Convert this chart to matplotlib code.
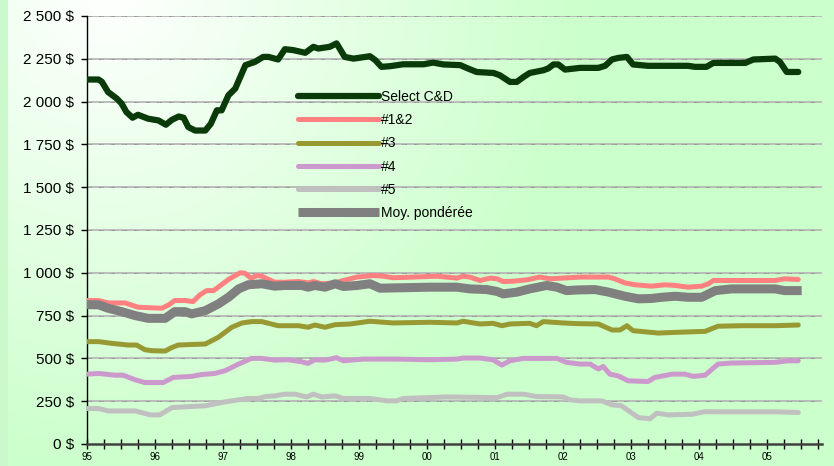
import numpy as np
import matplotlib
matplotlib.use("Agg")
import matplotlib.pyplot as plt
from matplotlib.ticker import FuncFormatter, MultipleLocator, FixedLocator

plt.rcParams['font.family'] = ['Liberation Sans', 'DejaVu Sans']

# ---------------- data (x in years since 1995) ----------------
cd_x = [0.00,0.17,0.22,0.31,0.44,0.51,0.58,0.67,0.75,0.90,1.05,1.16,1.25,1.35,1.42,1.49,1.59,1.74,1.82,1.91,
        1.98,2.08,2.18,2.33,2.47,2.59,2.67,2.81,2.91,3.03,3.21,3.33,3.40,3.57,3.67,3.79,3.92,4.16,4.24,4.33,
        4.46,4.65,4.95,5.09,5.24,5.49,5.58,5.73,5.98,6.07,6.22,6.32,6.42,6.51,6.71,6.78,6.86,6.93,7.03,7.25,
        7.52,7.62,7.72,7.81,7.94,8.03,8.25,8.84,8.94,9.11,9.21,9.68,9.80,10.12,10.19,10.29,10.46]
cd_y = [2129,2129,2115,2056,2017,1988,1939,1906,1923,1900,1890,1865,1894,1913,1906,1851,1831,1831,1870,1949,
        1949,2037,2076,2213,2232,2261,2261,2246,2306,2301,2285,2320,2310,2320,2340,2261,2251,2265,2242,2203,
        2207,2218,2218,2228,2217,2213,2197,2173,2167,2154,2115,2115,2144,2167,2183,2193,2217,2217,2187,2197,
        2197,2209,2246,2255,2261,2217,2209,2209,2203,2203,2226,2226,2246,2251,2232,2173,2173]

s12_x = [0.00,0.17,0.31,0.56,0.75,1.10,1.20,1.29,1.44,1.56,1.66,1.76,1.86,1.93,2.08,2.25,2.32,2.41,2.50,2.57,
         2.76,2.91,3.11,3.25,3.33,3.45,3.65,3.77,3.97,4.21,4.36,4.50,4.80,5.14,5.29,5.44,5.53,5.63,5.78,5.93,
         6.03,6.12,6.27,6.47,6.66,6.81,7.25,7.67,7.76,7.91,8.06,8.30,8.50,8.65,8.84,9.04,9.14,9.21,9.63,10.12,
         10.26,10.46]
s12_y = [838,838,824,824,799,793,812,838,838,832,871,896,896,916,961,1000,998,969,984,980,
         945,945,949,941,949,936,941,955,975,984,980,971,975,980,975,969,980,975,955,969,
         965,949,951,959,975,965,975,975,965,941,930,922,930,926,916,922,936,955,955,955,
         965,961]

s3_x = [0.00,0.17,0.36,0.61,0.73,0.85,0.95,1.15,1.25,1.34,1.59,1.74,1.93,2.13,2.28,2.42,2.57,2.81,3.11,3.25,
        3.35,3.50,3.65,3.87,4.16,4.50,5.04,5.44,5.53,5.78,5.97,6.10,6.22,6.51,6.61,6.71,7.00,7.21,7.52,7.72,
        7.84,7.94,8.03,8.40,8.65,9.09,9.28,9.63,10.12,10.46]
s3_y = [598,598,588,578,578,551,545,543,564,578,582,584,623,682,707,715,715,691,691,682,
        695,682,697,701,717,707,711,707,717,701,705,691,701,705,691,715,707,703,701,666,
        666,691,662,648,652,658,688,691,691,695]

s4_x = [0.00,0.17,0.41,0.53,0.71,0.85,1.12,1.27,1.54,1.69,1.88,2.03,2.23,2.42,2.57,2.76,2.96,3.16,3.25,3.35,
        3.50,3.67,3.77,4.06,4.55,5.04,5.44,5.53,5.78,5.97,6.10,6.22,6.41,6.91,7.05,7.25,7.40,7.52,7.59,7.69,
        7.81,7.96,8.25,8.35,8.60,8.79,8.92,9.09,9.28,9.48,10.12,10.31,10.46]
s4_y = [408,412,402,402,375,359,359,389,395,406,412,428,467,500,500,490,492,480,471,492,
        490,504,486,496,496,492,496,502,502,492,461,486,500,500,477,467,467,438,453,408,
        398,369,365,389,408,408,395,402,467,473,477,486,486]

s5_x = [0.00,0.17,0.31,0.71,0.93,1.07,1.25,1.44,1.74,2.03,2.23,2.37,2.52,2.62,2.76,2.91,3.06,3.23,3.33,3.45,
        3.65,3.77,4.16,4.41,4.55,4.65,5.29,6.03,6.18,6.42,6.61,7.00,7.10,7.25,7.57,7.72,7.86,8.11,8.28,8.38,
        8.55,8.90,9.09,9.34,10.12,10.46]
s5_y = [207,207,193,193,170,170,213,217,223,246,258,266,266,277,281,291,291,275,291,275,
        281,266,266,252,252,266,275,271,291,291,277,275,258,252,252,229,223,154,148,180,
        170,174,189,188,188,184]

moy_x = [0.00,0.17,0.31,0.51,0.71,0.90,1.15,1.29,1.44,1.54,1.74,1.93,2.08,2.23,2.37,2.57,2.76,2.91,3.16,3.25,
         3.35,3.50,3.65,3.77,3.97,4.16,4.31,4.55,5.04,5.44,5.63,5.88,6.03,6.12,6.32,6.51,6.76,6.91,7.05,7.22,
         7.47,7.67,7.91,8.11,8.30,8.45,8.65,8.84,9.04,9.24,9.48,9.78,10.12,10.26,10.51]
moy_y = [814,813,793,773,750,734,734,773,773,760,779,818,857,906,930,936,922,926,926,916,
         926,916,936,920,926,936,910,912,916,916,906,902,891,877,887,906,926,916,896,900,
         902,887,863,848,850,857,863,857,857,896,906,906,906,896,896]

labels = ["Select C&D", "#1&2", "#3", "#4", "#5", "Moy. pondérée"]
colors = ["#0a3a0a", "#ff8080", "#999933", "#cc99cc", "#c0c0c0", "#808080"]
widths = [4.5, 3.6, 3.6, 3.6, 3.6, 6.5]
year_labels = ["95", "96", "97", "98", "99", "00", "01", "02", "03", "04", "05"]
yticks = [0, 250, 500, 750, 1000, 1250, 1500, 1750, 2000, 2250, 2500]

# ---------------- figure ----------------
W, H = 834, 466
fig = plt.figure(figsize=(W / 100, H / 100), dpi=100)

# background gradient
bg = fig.add_axes([0, 0, 1, 1], zorder=-10)
bg.axis('off')
yy, xx = np.mgrid[0:H, 0:W]
r = np.clip(np.hypot(xx - 110, yy + 10) / 470.0, 0, 1)
white = np.array([1.0, 1.0, 1.0])
green = np.array([0.80, 1.0, 0.80])
img = white[None, None, :] * (1 - r[..., None]) + green[None, None, :] * r[..., None]
img[:, :8, :] = np.array([0.80, 0.98, 0.80])
bg.imshow(img, aspect='auto', extent=[0, 1, 0, 1], origin='upper')
bg.set_xlim(0, 1)
bg.set_ylim(0, 1)

ax = fig.add_axes([87 / W, (H - 444) / H, 735 / W, (444 - 16) / H])
ax.set_facecolor('none')

series = [(cd_x, cd_y), (s12_x, s12_y), (s3_x, s3_y), (s4_x, s4_y), (s5_x, s5_y), (moy_x, moy_y)]
handles = []
for (sx, sy), lab, c, lw in zip(series, labels, colors, widths):
    capstyle = 'butt' if lab.startswith('Moy') else 'round'
    h, = ax.plot(1995 + np.array(sx), sy, color=c, lw=lw, label=lab,
                 solid_capstyle=capstyle, solid_joinstyle='round', zorder=3)
    handles.append(h)

ax.set_xlim(1995, 1995 + 735 / 68)
ax.set_ylim(0, 2500)

# gridlines
for v in yticks[1:]:
    ax.axhline(v, color='#b8b8b8', lw=1.3, zorder=1)
    ax.axhline(v, color='#555555', lw=0.6, zorder=1.1,
               linestyle=(0, (0.5, 1.0, 0.5, 1.0, 0.5, 1.0, 0.5, 9.0)))

ax.yaxis.set_major_locator(FixedLocator(yticks))
ax.yaxis.set_major_formatter(FuncFormatter(lambda v, p: f"{int(v):,}".replace(",", " ") + " $"))
ax.xaxis.set_major_locator(FixedLocator([1995 + i for i in range(len(year_labels))]))
ax.xaxis.set_major_formatter(FuncFormatter(
    lambda v, p: year_labels[int(round(v - 1995))] if 0 <= int(round(v - 1995)) < len(year_labels) else ""))
ax.xaxis.set_minor_locator(MultipleLocator(0.25))

for s in ['top', 'right']:
    ax.spines[s].set_visible(False)
ax.spines['left'].set_color('black')
ax.spines['left'].set_linewidth(1.0)
ax.spines['bottom'].set_color('#404040')
ax.spines['bottom'].set_linewidth(1.8)

ax.tick_params(axis='y', direction='out', length=4, width=1, labelsize=11, colors='black', pad=5.5)
ax.tick_params(axis='x', which='both', direction='inout', length=7, width=1, colors='black')
ax.tick_params(axis='x', which='major', labelsize=7, pad=2)

leg = ax.legend(handles=handles, loc='upper left', bbox_to_anchor=(0.287, 0.827),
                frameon=False, borderaxespad=0, borderpad=0, fontsize=10,
                handlelength=5.8, handletextpad=0.2, labelspacing=0.66)

fig.savefig("out.png", dpi=100)
